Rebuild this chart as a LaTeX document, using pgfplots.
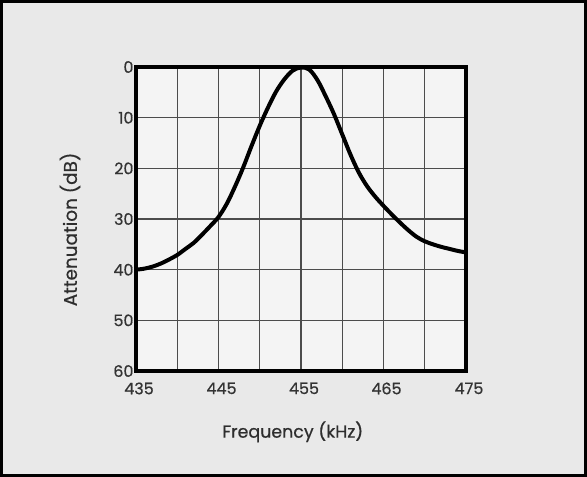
\documentclass[border=0pt]{standalone}
\usepackage{pgfplots}
\pgfplotsset{compat=1.18}
\usepackage{fontspec}
\setmainfont{Poppins}[FakeBold=0.6]
\definecolor{outerbg}{gray}{0.915}
\definecolor{innerbg}{gray}{0.955}
\begin{document}
\begin{tikzpicture}
\fill[outerbg] (0bp,0bp) rectangle (587bp,477bp);
\draw[line width=3bp] (1.5bp,1.5bp) rectangle (585.5bp,475.5bp);
\begin{axis}[
  at={(136bp,106bp)}, anchor=south west,
  scale only axis, width=330bp, height=304bp,
  xmin=435, xmax=475, ymin=0, ymax=60,
  y dir=reverse,
  axis background/.style={fill=innerbg},
  xtick={435,445,455,465,475},
  minor xtick={440,450,460,470},
  ytick={0,10,...,60},
  grid=both,
  major grid style={line width=1.3bp, black!70},
  minor grid style={line width=1.3bp, black!70},
  major tick length=0pt, minor tick length=0pt,
  axis line style={line width=4bp},
  /pgf/number format/assume math mode=true,
  /pgf/number format/1000 sep={},
  tick label style={font=\fontsize{16}{16}\selectfont, text=black!80},
  yticklabel style={xshift=1bp, yshift=0bp},
  xticklabel style={xshift=3bp, yshift=-8bp},
  xlabel={Frequency (kHz)},
  ylabel={Attenuation (dB)},
  xlabel style={font=\fontsize{17.5}{17.5}\selectfont, text=black!82, at={(axis description cs:0.475,-0.2)}, anchor=center},
  ylabel style={font=\fontsize{18.5}{18.5}\selectfont, text=black!82, at={(axis description cs:-0.2,0.4655)}, anchor=center, rotate=0},
]
\addplot[line width=4bp, smooth, tension=0.55] coordinates {
(435,40) (436,39.8) (437,39.4) (438,38.8) (439,38.0) (440,37.1)
(441,35.9) (442,34.7) (443,33.1) (444,31.4) (445,29.6) (446,27.0)
(447,23.6) (448,19.8) (449,15.6) (450,11.6) (451,8.0) (452,4.8)
(453,2.4) (454,0.7) (455,0.1) (456,0.5) (457,2.6) (458,5.8)
(459,9.3) (460,13.3) (461,17.3) (462,20.8) (463,23.5) (464,25.6)
(465,27.4) (466,29.1) (467,30.7) (468,32.2) (469,33.5) (470,34.4)
(471,35.0) (472,35.5) (473,35.9) (474,36.3) (475,36.6)
};
\end{axis}
\end{tikzpicture}
\end{document}
